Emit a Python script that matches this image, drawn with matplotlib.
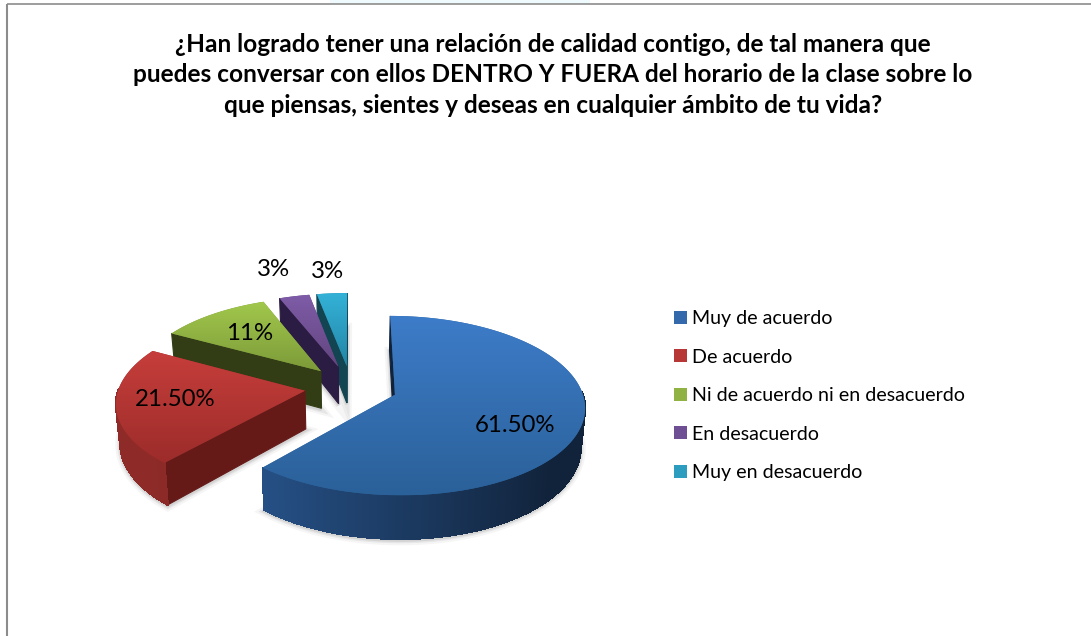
import numpy as np
import matplotlib
matplotlib.use("Agg")
import matplotlib.pyplot as plt
from matplotlib.colors import to_rgb
from matplotlib.patches import Patch, Polygon, Rectangle
from matplotlib.collections import PolyCollection

categories = ["Muy de acuerdo", "De acuerdo", "Ni de acuerdo ni en desacuerdo",
              "En desacuerdo", "Muy en desacuerdo"]
values = [61.5, 21.5, 11, 3, 3]
value_labels = ["61.50%", "21.50%", "11%", "3%", "3%"]
title_text = ("¿Han logrado tener una relación de calidad contigo, de tal manera que\n"
              "puedes conversar con ellos DENTRO Y FUERA del horario de la clase sobre lo\n"
              "que piensas, sientes y deseas en cualquier ámbito de tu vida?")

top_light = ["#3D7CC9", "#C63E3B", "#A2C84C", "#7F5CA8", "#34B2D8"]
top_dark = ["#2B6199", "#9C2C2A", "#7C9A39", "#63457F", "#2386A6"]
wall_light = ["#27538A", "#8E2B29", "#3A4618", "#30214B", "#164D5E"]
wall_dark = ["#11233B", "#651A18", "#333D15", "#2A1C42", "#134452"]
legend_colors = ["#3469AC", "#B63735", "#8FB243", "#6E4F93", "#2C9CBF"]
label_xy = [(515, 425), (175, 399), (250, 333), (273, 270), (327, 272)]

VX, YC, RX, RY, K, EXPL, DEPTH, SHRINK = 351, 387, 186, 86.5, 0.12, 0.25, 38, 0.018

plt.rcParams["font.family"] = ["Lato", "DejaVu Sans"]
fig = plt.figure(figsize=(10.91, 6.36), dpi=100)
ax = fig.add_axes([0, 0, 1, 1])
ax.set_xlim(0, 1091)
ax.set_ylim(636, 0)
ax.axis("off")


def project(u, v, z=0.0):
    u, v = np.asarray(u, float), np.asarray(v, float)
    w = 1 + K * v
    x = RX * u / w
    y = RY * v / w
    return VX + x * (1 - SHRINK * z), YC - y + DEPTH * z / w


def lerp(c1, c2, t):
    a, b = np.array(to_rgb(c1)), np.array(to_rgb(c2))
    return tuple(a + (b - a) * t)


fractions = np.array(values) / sum(values)
edges = 90 - 360 * np.concatenate([[0], np.cumsum(fractions)])

for i in range(len(values) - 1, -1, -1):
    hi, lo = np.radians(edges[i]), np.radians(edges[i + 1])
    mid = (hi + lo) / 2
    u0, v0 = EXPL * np.cos(mid), EXPL * np.sin(mid)
    th = np.linspace(lo, hi, max(12, int(np.degrees(hi - lo))))
    ur, vr = u0 + np.cos(th), v0 + np.sin(th)
    ring_u = np.r_[u0, ur]
    ring_v = np.r_[v0, vr]

    # soft shadow round the lower rim
    sx, sy = project(ring_u, ring_v, 1.0)
    for lw, a in ((7, 0.04), (4, 0.06), (2, 0.08)):
        ax.add_patch(Polygon(np.c_[sx, sy + 1.5], closed=True, facecolor="none",
                             edgecolor=(0, 0, 0, a), linewidth=lw, zorder=2 + (5 - i) * 3))

    z_base = 3 + (5 - i) * 3
    # straight cut walls: only those that turn towards the viewer
    for ang, col in ((hi, wall_dark[i]), (lo, wall_dark[i])):
        ue, ve = u0 + np.cos(ang), v0 + np.sin(ang)
        q = np.array([project(u0, v0, 0), project(ue, ve, 0),
                      project(ue, ve, 1), project(u0, v0, 1)])
        area = 0.5 * np.sum(q[:, 0] * np.roll(q[:, 1], -1) - np.roll(q[:, 0], -1) * q[:, 1])
        front = area < 0 if ang == hi else area > 0
        if front:
            ax.add_patch(Polygon(q, closed=True, facecolor=col, edgecolor=col,
                                 linewidth=0.8, zorder=z_base))

    # curved outer wall, one facet per step, shaded along the rim
    quads, cols = [], []
    x0, y0 = project(ur, vr, 0)
    x1, y1 = project(ur, vr, 1)
    for j in range(len(th) - 1):
        if np.sin((th[j] + th[j + 1]) / 2) < 0.02:
            quads.append([(x0[j], y0[j]), (x0[j + 1], y0[j + 1]),
                          (x1[j + 1], y1[j + 1]), (x1[j], y1[j])])
            t = np.clip((np.cos((th[j] + th[j + 1]) / 2) + 0.75) / 1.5, 0, 1)
            cols.append(lerp(wall_light[i], wall_dark[i], t))
    if quads:
        ax.add_collection(PolyCollection(quads, facecolors=cols, edgecolors=cols,
                                         linewidths=0.8, antialiaseds=False, zorder=z_base + 1))

    # top face with vertical gradient
    fx, fy = project(ring_u, ring_v, 0)
    face = Polygon(np.c_[fx, fy], closed=True, facecolor=top_dark[i],
                   edgecolor="none", zorder=z_base + 2)
    ax.add_patch(face)
    grad = np.linspace(0, 1, 128)[:, None, None] * np.ones((128, 2, 3))
    c1, c2 = np.array(to_rgb(top_light[i])), np.array(to_rgb(top_dark[i]))
    img = c1 + (c2 - c1) * grad
    im = ax.imshow(img, extent=(fx.min(), fx.max(), fy.max(), fy.min()),
                   aspect="auto", zorder=z_base + 2.5, interpolation="bilinear")
    im.set_clip_path(face)

ax.set_xlim(0, 1091)
ax.set_ylim(636, 0)

for lab, (lx, ly) in zip(value_labels, label_xy):
    ax.text(lx, ly, lab, fontsize=17.3, color="black", ha="center", va="center", zorder=40)

ax.text(553, 75, title_text, fontsize=17.6, fontweight="bold", color="black",
        ha="center", va="center", linespacing=1.42, zorder=40)

handles = [Patch(facecolor=c, edgecolor="none") for c in legend_colors]
leg = ax.legend(handles, categories, loc="upper left", bbox_to_anchor=(674 / 1091, 1 - 310 / 636),
                frameon=False, fontsize=14.1, handlelength=0.66, handleheight=0.66,
                handletextpad=0.26, labelspacing=1.1, borderpad=0, borderaxespad=0)
leg.set_zorder(40)

ax.add_patch(Rectangle((330, 0), 260, 3.5, facecolor="#EEFAFD", edgecolor="none", zorder=0.5))
ax.plot([7, 7], [636, 4], color="#8C8C8C", lw=1.5, zorder=1, solid_capstyle="butt")
ax.plot([7, 1091], [4, 4], color="#8C8C8C", lw=1.2, zorder=1, solid_capstyle="butt")

fig.savefig("out.png", dpi=100, facecolor="white")
